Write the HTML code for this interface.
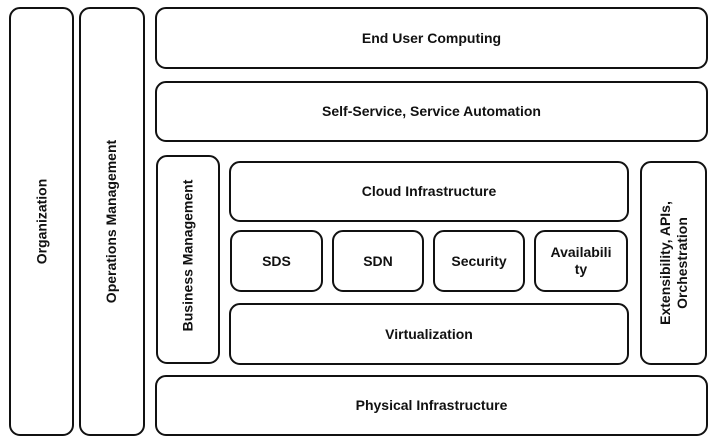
<!DOCTYPE html>
<html><head><style>
body{margin:0;width:715px;height:443px;background:#fff;position:relative;overflow:hidden;font-family:"Liberation Sans",sans-serif;font-weight:bold;font-size:14px;color:#111}
.b{position:absolute;box-sizing:border-box;border:2px solid #111;border-radius:11px;display:flex;align-items:center;justify-content:center;text-align:center;line-height:17px}
.v span{transform:rotate(-90deg);white-space:nowrap;display:block}
</style></head><body>
<div class="b v" style="left:9px;top:7px;width:65px;height:429px"><span>Organization</span></div>
<div class="b v" style="left:79px;top:7px;width:66px;height:429px"><span>Operations Management</span></div>
<div class="b" style="left:155px;top:7px;width:553px;height:62px">End User Computing</div>
<div class="b" style="left:155px;top:81px;width:553px;height:61px">Self-Service, Service Automation</div>
<div class="b v" style="left:156px;top:155px;width:64px;height:209px"><span style="margin-bottom:8px">Business Management</span></div>
<div class="b" style="left:229px;top:161px;width:400px;height:61px">Cloud Infrastructure</div>
<div class="b" style="left:230px;top:230px;width:93px;height:62px">SDS</div>
<div class="b" style="left:332px;top:230px;width:92px;height:62px">SDN</div>
<div class="b" style="left:433px;top:230px;width:92px;height:62px">Security</div>
<div class="b" style="left:534px;top:230px;width:94px;height:62px">Availabili<br>ty</div>
<div class="b" style="left:229px;top:303px;width:400px;height:62px">Virtualization</div>
<div class="b v" style="left:640px;top:161px;width:67px;height:204px"><span>Extensibility, APIs,<br>Orchestration</span></div>
<div class="b" style="left:155px;top:375px;width:553px;height:61px">Physical Infrastructure</div>
</body></html>
